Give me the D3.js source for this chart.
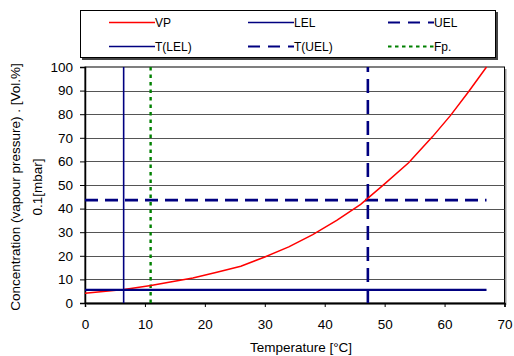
<!DOCTYPE html>
<html>
<head>
<meta charset="utf-8">
<script src="https://cdn.jsdelivr.net/npm/d3@7"></script>
<style>
  body { margin: 0; background: #fff; }
  svg { display: block; font-family: "Liberation Sans", Arial, sans-serif; }
  .axis path, .axis line { stroke: #000; }
  .axis text { font-size: 13.5px; fill: #000; }
</style>
</head>
<body>
<svg width="514" height="356"></svg>
<script>
// vapour pressure curve (temperature in °C, value in 0.1 mbar)
var vpTemp  = [0, 6.5, 11, 14, 18, 22, 26, 30, 34, 38, 42, 46, 50, 54, 58, 61, 64, 67];
var vpValue = [4.1, 5.7, 7.4, 8.8, 10.6, 13.0, 15.6, 19.5, 23.8, 29.0, 35.0, 41.8, 50.5, 59.4, 70.5, 79.5, 89.5, 100];

// explosion limits and flash point
var lelValue = 5.6;
var uelValue = 43.6;
var tLel = 6.45;
var tUel = 47.2;
var flashPoint = 10.95;
var tEnd = 67;

var xTicks = [0, 10, 20, 30, 40, 50, 60, 70];
var yTicks = [0, 10, 20, 30, 40, 50, 60, 70, 80, 90, 100];

var legendNames = ["VP", "LEL", "UEL", "T(LEL)", "T(UEL)", "Fp."];

var svg = d3.select("svg"),
    margin = {top: 67, left: 85, right: 504.5, bottom: 303};

var x = d3.scaleLinear().domain([0, 70]).range([margin.left, margin.right]),
    y = d3.scaleLinear().domain([0, 100]).range([margin.bottom, margin.top]);

var navy = "#000080", red = "#ff0000", green = "#008000";

var styles = {
  "VP":     {color: red,   width: 1.5, dash: null},
  "LEL":    {color: navy,  width: 2.2, dash: null},
  "UEL":    {color: navy,  width: 2.6, dash: "13,7"},
  "T(LEL)": {color: navy,  width: 1.6, dash: null},
  "T(UEL)": {color: navy,  width: 2.6, dash: "14,7"},
  "Fp.":    {color: green, width: 2.4, dash: "3.5,4"}
};

// plot area shadow + gridlines
svg.append("rect")
    .attr("x", margin.left + 2).attr("y", margin.top + 2)
    .attr("width", margin.right - margin.left).attr("height", margin.bottom - margin.top)
    .style("fill", "#999");
svg.append("rect")
    .attr("x", margin.left).attr("y", margin.top)
    .attr("width", margin.right - margin.left).attr("height", margin.bottom - margin.top)
    .style("fill", "#fff")
    .style("stroke", "#000")
    .style("stroke-width", 1);

svg.append("g")
    .selectAll("line")
    .data(yTicks.slice(1, -1))
    .enter().append("line")
    .attr("x1", x(0)).attr("x2", x(70))
    .attr("y1", function(d) { return Math.round(y(d)) + 0.5; })
    .attr("y2", function(d) { return Math.round(y(d)) + 0.5; })
    .style("stroke", "#555")
    .style("stroke-width", 1);

// axes
svg.append("g")
    .attr("class", "axis")
    .attr("transform", "translate(0," + margin.bottom + ")")
    .call(d3.axisBottom(x).tickValues(xTicks).tickSize(4).tickPadding(12).tickFormat(d3.format("d")))
    .call(function(g) { g.select(".domain").style("stroke-width", 1.5); });

svg.append("g")
    .attr("class", "axis")
    .attr("transform", "translate(" + margin.left + ",0)")
    .call(d3.axisLeft(y).tickValues(yTicks).tickSize(5).tickPadding(7).tickFormat(d3.format("d")))
    .call(function(g) { g.select(".domain").style("stroke-width", 1.5); });

// series
function drawLine(pts, name) {
  var s = styles[name];
  svg.append("path")
      .datum(pts)
      .attr("d", d3.line().x(function(d) { return x(d[0]); }).y(function(d) { return y(d[1]); }))
      .style("fill", "none")
      .style("stroke", s.color)
      .style("stroke-width", s.width)
      .style("stroke-dasharray", s.dash);
}

drawLine([[flashPoint, 0], [flashPoint, 100]], "Fp.");
drawLine([[tLel, 0], [tLel, 100]], "T(LEL)");
drawLine([[tUel, 0], [tUel, 100]], "T(UEL)");
drawLine([[0, uelValue], [tEnd, uelValue]], "UEL");
drawLine(vpTemp.map(function(t, i) { return [t, vpValue[i]]; }), "VP");
drawLine([[0, lelValue], [tEnd, lelValue]], "LEL");

// axis titles
svg.append("text")
    .attr("x", 301).attr("y", 351.5)
    .attr("text-anchor", "middle")
    .style("font-size", "13.5px")
    .text("Temperature [°C]");

var yTitle = svg.append("text")
    .attr("transform", "translate(20,187) rotate(-90)")
    .attr("text-anchor", "middle")
    .style("font-size", "13.5px");
yTitle.append("tspan").attr("x", 0).attr("y", 0).text("Concentration (vapour pressure) . [Vol.%]");
yTitle.append("tspan").attr("x", 0).attr("y", 22).text("0.1[mbar]");

// legend
var legend = svg.append("g");
legend.append("rect")
    .attr("x", 82).attr("y", 12).attr("width", 416).attr("height", 48)
    .style("fill", "#444");
legend.append("rect")
    .attr("x", 80.5).attr("y", 10.5).attr("width", 415).attr("height", 47)
    .style("fill", "#fff")
    .style("stroke", "#000");

var colX = [109, 248, 388], rowY = [22.5, 46.5];
legendNames.forEach(function(name, i) {
  var s = styles[name],
      lx = colX[i % 3], ly = rowY[Math.floor(i / 3)];
  legend.append("line")
      .attr("x1", lx).attr("x2", lx + 46)
      .attr("y1", ly).attr("y2", ly)
      .style("stroke", s.color)
      .style("stroke-width", name === "VP" || name === "LEL" || name === "T(LEL)" ? 1.6 : 2.2)
      .style("stroke-dasharray", name === "Fp." ? "3.5,3.5" : (s.dash ? "12,8" : null));
  legend.append("text")
      .attr("x", lx + 46).attr("y", ly + 4)
      .style("font-size", "12px")
      .text(name);
});
</script>
</body>
</html>
